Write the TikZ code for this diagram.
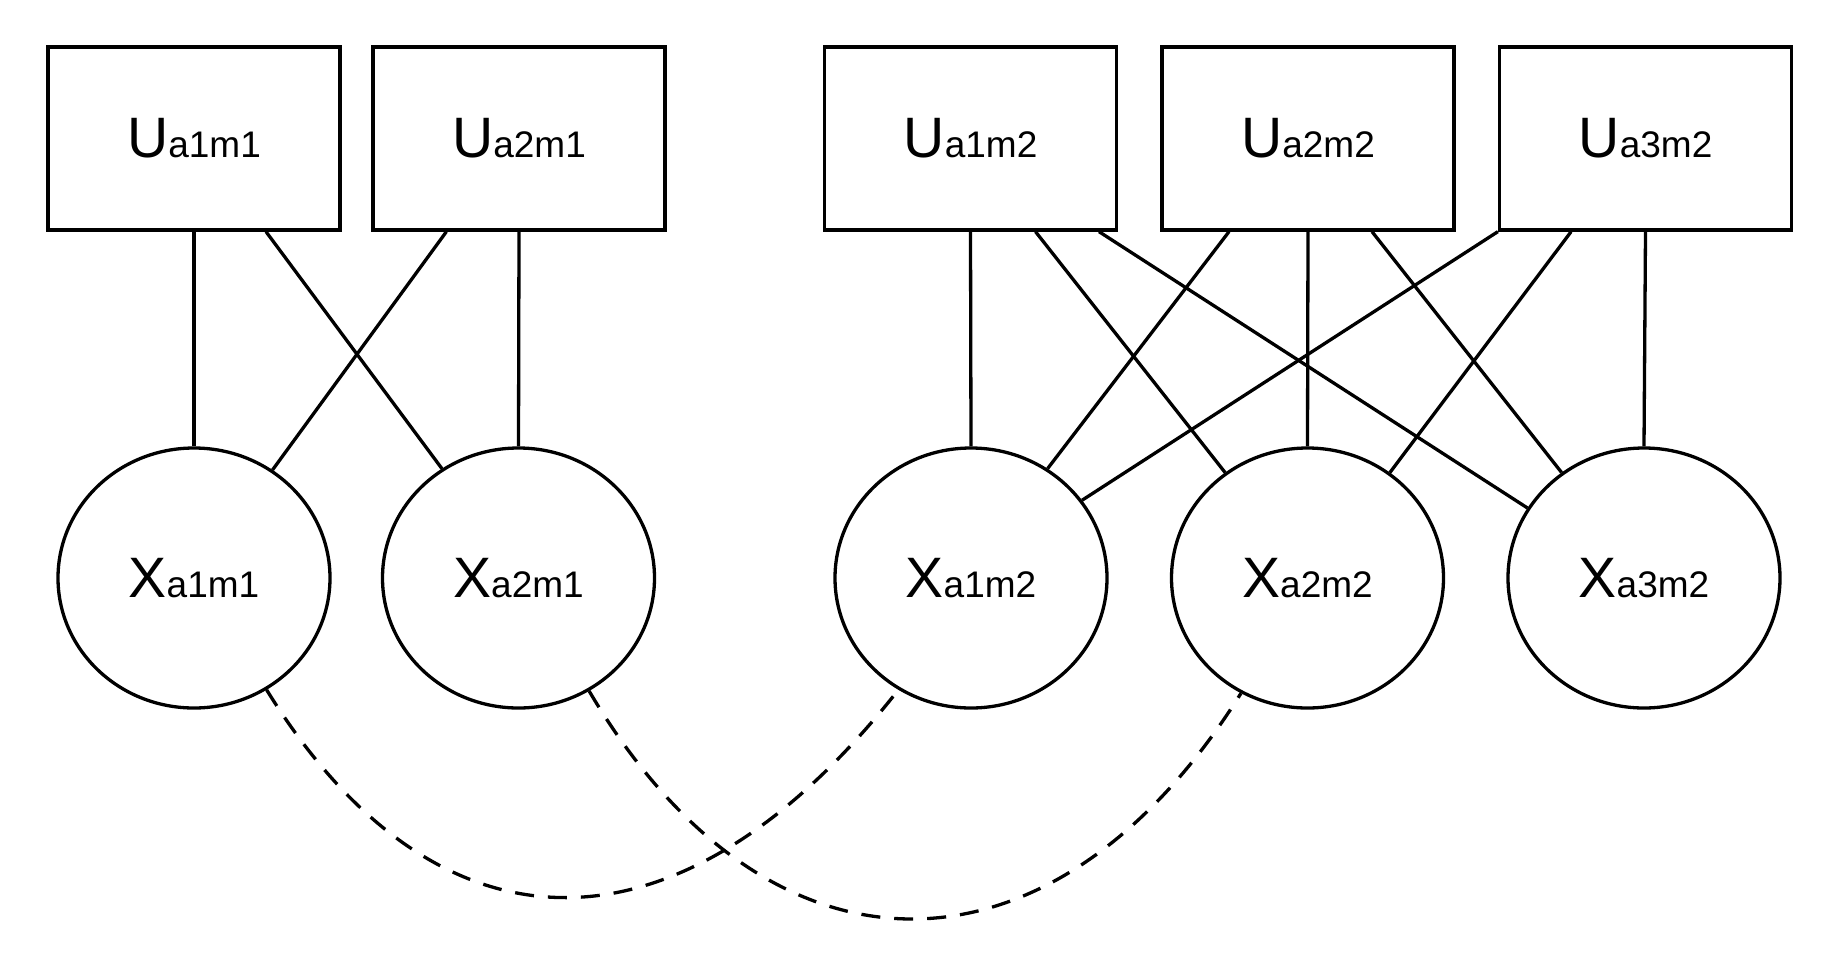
\documentclass[tikz,border=0pt]{standalone}
\usepackage{fontspec}
\setmainfont{Liberation Sans}
\usetikzlibrary{shapes.geometric}
\newcommand\mylbl[2]{{\fontsize{28.5}{30}\selectfont #1}{\fontsize{18.5}{19}\selectfont #2}}
\tikzset{
  ubox/.style={draw, line width=1.65pt, rectangle, minimum width=146pt, minimum height=91.5pt, inner sep=0pt},
  xell/.style={draw, line width=1.65pt, ellipse, minimum width=136pt, minimum height=130pt, inner sep=0pt},
  edge/.style={line width=1.65pt},
  dedge/.style={line width=1.65pt, dash pattern=on 9.5pt off 7pt},
}
\begin{document}
\begin{tikzpicture}[x=0.5pt, y=-0.5pt]
\useasboundingbox (0,0) rectangle (1837,970);
% boxes
\node[ubox] (U11) at (194,138.5) {\mylbl{U}{a1m1}};
\node[ubox] (U21) at (519,138.5) {\mylbl{U}{a2m1}};
\node[ubox] (U12) at (970.5,138.5) {\mylbl{U}{a1m2}};
\node[ubox] (U22) at (1308,138.5) {\mylbl{U}{a2m2}};
\node[ubox] (U32) at (1645.5,138.5) {\mylbl{U}{a3m2}};
% ellipses
\node[xell] (X11) at (194,578) {\mylbl{X}{a1m1}};
\node[xell] (X21) at (518.5,578) {\mylbl{X}{a2m1}};
\node[xell] (X12) at (971,578) {\mylbl{X}{a1m2}};
\node[xell] (X22) at (1307.5,578) {\mylbl{X}{a2m2}};
\node[xell] (X32) at (1644,578) {\mylbl{X}{a3m2}};
% solid edges
\draw[edge] (U11.south) -- (X11.north);
\draw[edge] ([xshift=36pt]U11.south) -- (X21.125.7);
\draw[edge] ([xshift=-36.3pt]U21.south) -- (X11.54.8);
\draw[edge] (U21.south) -- (X21.north);
\draw[edge] (U12.south) -- (X12.north);
\draw[edge] ([xshift=32.5pt]U12.south) -- (X22.128.4);
\draw[edge] ([xshift=64.25pt]U12.south) -- (X32.149.8);
\draw[edge] ([xshift=-39.5pt]U22.south) -- (X12.55.7);
\draw[edge] (U22.south) -- (X22.north);
\draw[edge] ([xshift=32pt]U22.south) -- (X32.128.5);
\draw[edge] (U32.south west) -- (X12.35);
\draw[edge] ([xshift=-37.2pt]U32.south) -- (X22.52.8);
\draw[edge] (U32.south) -- (X32.north);
% dashed edges
\draw[dedge] (X11.-57) .. controls +(168,272) and +(-222,282) .. (X12.-123.5);
\draw[dedge] (X21.-58.8) .. controls +(180,305) and +(-188,300) .. (X22.-120.8);
\end{tikzpicture}
\end{document}
